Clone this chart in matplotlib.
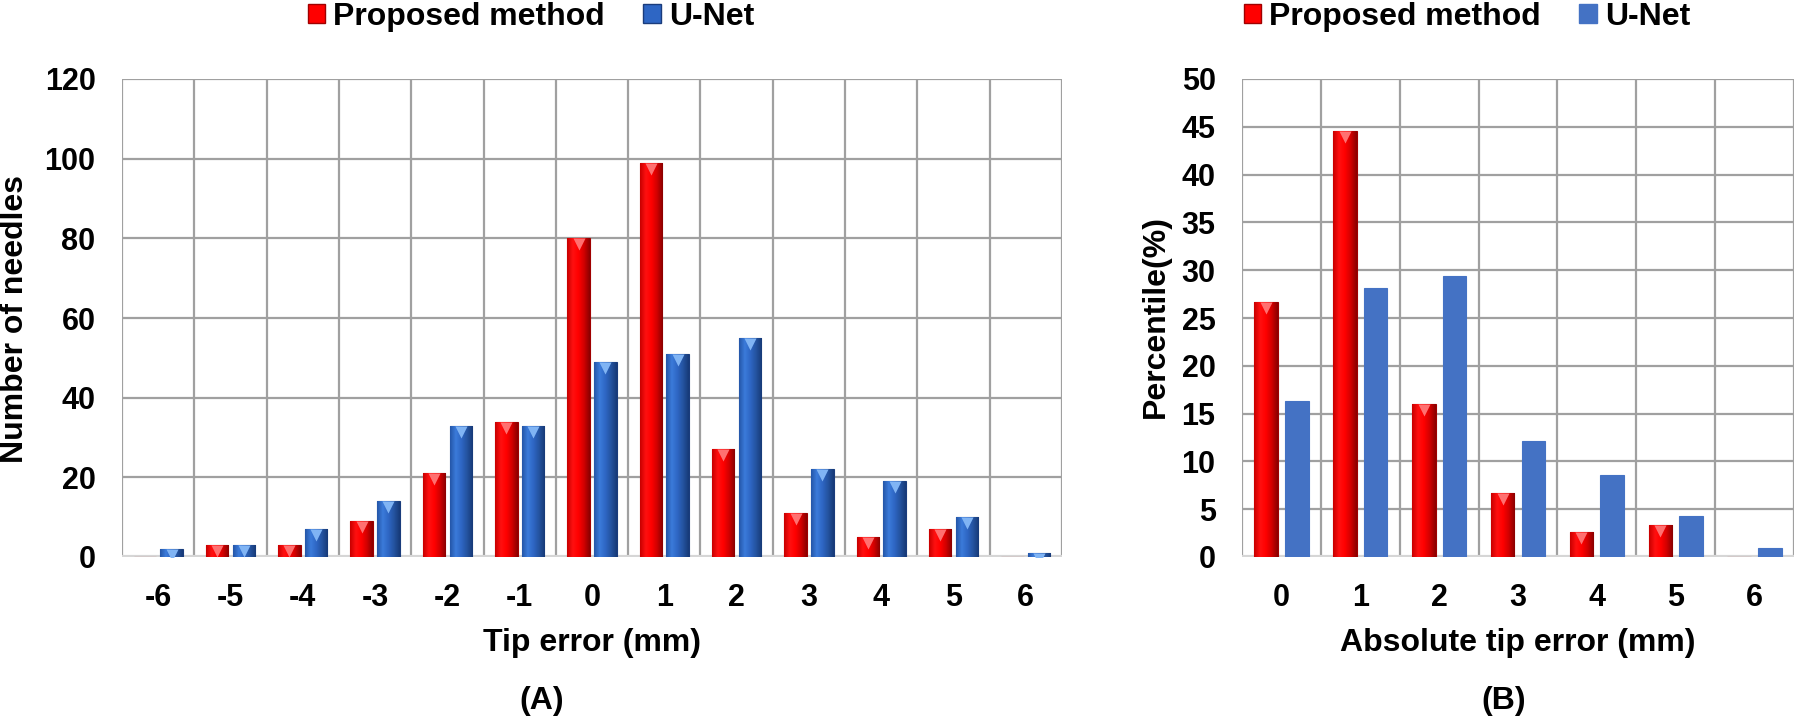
import numpy as np
import matplotlib.pyplot as plt
import matplotlib.transforms as mtrans
from matplotlib.patches import Patch
from matplotlib.colors import LinearSegmentedColormap

plt.rcParams['font.family'] = ['Liberation Sans', 'DejaVu Sans']
plt.rcParams['font.weight'] = 'bold'
plt.rcParams['axes.unicode_minus'] = False

# panel A: signed tip error histogram
err = [-6, -5, -4, -3, -2, -1, 0, 1, 2, 3, 4, 5, 6]
prop_cnt = [0, 3, 3, 9, 21, 34, 80, 99, 27, 11, 5, 7, 0]
unet_cnt = [2, 3, 7, 14, 33, 33, 49, 51, 55, 22, 19, 10, 1]

# panel B: absolute tip error, percent
abs_err = [0, 1, 2, 3, 4, 5, 6]
prop_pct = [26.7, 44.6, 16.0, 6.7, 2.6, 3.3, 0.0]
unet_pct = [16.3, 28.1, 29.4, 12.1, 8.6, 4.3, 0.9]

RED = '#FF0000'
RED_EDGE = '#A00000'
RED_TIP = '#FF7070'
BLUE = '#2E66C4'
BLUE_EDGE = '#1A3C7C'
BLUE_TIP = '#80B4F4'
BLUE_FLAT = '#4472C4'
GRID = '#A0A0A0'
FS = 22

red_cm = LinearSegmentedColormap.from_list('r', ['#C80000', '#FF1010', '#FF0000', '#D00000', '#8A0000'])
blue_cm = LinearSegmentedColormap.from_list('b', ['#2456A8', '#3B7BDA', '#2E66C4', '#24539F', '#173A78'])

W, H = 1800, 721
fig = plt.figure(figsize=(W / 100, H / 100), dpi=100)

axA = fig.add_axes([122 / W, 1 - 557 / H, 940 / W, 478 / H])
axB = fig.add_axes([1242 / W, 1 - 557 / H, 552 / W, 478 / H])


def shade(ax, bars, cmap):
    # horizontal bevel shading clipped to each bar
    grad = np.linspace(0, 1, 64).reshape(1, -1)
    for b in bars:
        if b.get_height() <= 0:
            continue
        x0, y0 = b.get_x(), b.get_y()
        im = ax.imshow(grad, cmap=cmap, aspect='auto', zorder=3.1,
                       extent=(x0, x0 + b.get_width(), y0, y0 + b.get_height()))
        im.set_clip_path(b)


def tips(ax, x, vals, color):
    tr = mtrans.offset_copy(ax.transData, fig=fig, y=-6, units='dots')
    xs = [a for a, v in zip(x, vals) if v > 1e-9]
    ys = [v for v in vals if v > 1e-9]
    ax.plot(xs, ys, 'v', ms=9, color=color, mec='none', transform=tr, zorder=4)


def style(ax, xs, ymax, ystep):
    ax.set_xlim(xs[0] - 0.5, xs[-1] + 0.5)
    ax.set_ylim(0, ymax)
    ax.set_xticks(xs)
    ax.set_xticks(np.arange(xs[0] - 0.5, xs[-1] + 1, 1), minor=True)
    ax.set_yticks(np.arange(0, ymax + 1, ystep))
    ax.grid(which='minor', axis='x', color=GRID, lw=1.6)
    ax.grid(which='major', axis='y', color=GRID, lw=1.6)
    ax.set_axisbelow(True)
    for s in ax.spines.values():
        s.set_visible(False)
    ax.axhline(0, color='#D6D6D6', lw=3, zorder=1)
    ax.tick_params(which='both', length=0)
    ax.tick_params(axis='x', pad=19, labelsize=FS)
    ax.tick_params(axis='y', pad=19, labelsize=FS)
    for lab in ax.get_xticklabels() + ax.get_yticklabels():
        lab.set_fontweight('bold')


# ---- (A)
x = np.array(err)
bA1 = axA.bar(x - 0.185, prop_cnt, 0.31, color=RED, edgecolor=RED_EDGE, lw=0.8, zorder=3)
bA2 = axA.bar(x + 0.185, unet_cnt, 0.31, color=BLUE, edgecolor=BLUE_EDGE, lw=0.8, zorder=3)
shade(axA, bA1, red_cm)
shade(axA, bA2, blue_cm)
tips(axA, x - 0.185, prop_cnt, RED_TIP)
tips(axA, x + 0.185, unet_cnt, BLUE_TIP)
style(axA, err, 120, 20)

# ---- (B)
x = np.array(abs_err)
bB1 = axB.bar(x - 0.195, prop_pct, 0.30, color=RED, edgecolor=RED_EDGE, lw=0.8, zorder=3)
axB.bar(x + 0.195, unet_pct, 0.30, color=BLUE_FLAT, edgecolor=BLUE_FLAT, lw=0.8, zorder=3)
shade(axB, bB1, red_cm)
tips(axB, x - 0.195, prop_pct, RED_TIP)
style(axB, abs_err, 50, 5)

# labels
fig.text(15 / W, 1 - 319 / H, 'Number of needles', rotation=90, ha='center', va='center',
         fontsize=23, fontweight='bold')
fig.text(1156 / W, 1 - 317 / H, 'Percentile(%)', rotation=90, ha='center', va='center',
         fontsize=23, fontweight='bold')
fig.text(592 / W, 1 - 643 / H, 'Tip error (mm)', ha='center', va='center',
         fontsize=23, fontweight='bold')
fig.text(1518 / W, 1 - 643 / H, 'Absolute tip error (mm)', ha='center', va='center',
         fontsize=23, fontweight='bold')
fig.text(542 / W, 1 - 701 / H, '(A)', ha='center', va='center', fontsize=23, fontweight='bold')
fig.text(1504 / W, 1 - 701 / H, '(B)', ha='center', va='center', fontsize=23, fontweight='bold')

# legends
legA = [Patch(facecolor=RED, edgecolor=RED_EDGE, label='Proposed method'),
        Patch(facecolor=BLUE, edgecolor=BLUE_EDGE, label='U-Net')]
legB = [Patch(facecolor=RED, edgecolor=RED_EDGE, label='Proposed method'),
        Patch(facecolor=BLUE_FLAT, edgecolor=BLUE_FLAT, label='U-Net')]
for handles, cx in [(legA, 531), (legB, 1467)]:
    fig.legend(handles=handles, loc='center', bbox_to_anchor=(cx / W, 1 - 17 / H), ncol=2,
               frameon=False, borderpad=0, handlelength=0.55, handleheight=0.55,
               handletextpad=0.25, columnspacing=1.2, prop={'size': 23, 'weight': 'bold'})

fig.savefig('out.png', dpi=100)
